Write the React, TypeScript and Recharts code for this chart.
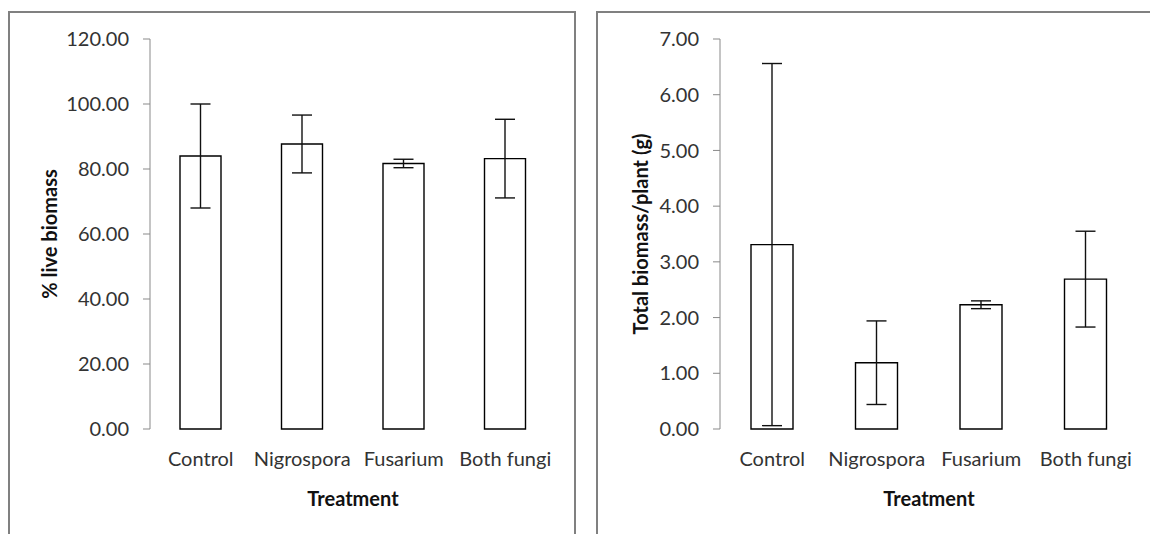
import { BarChart, Bar, XAxis, YAxis, ErrorBar, Label } from "recharts"

const treatments = ["Control", "Nigrospora", "Fusarium", "Both fungi"]
const liveBiomass = [84.0, 87.7, 81.7, 83.2]
const liveBiomassErr = [16.0, 8.9, 1.3, 12.1]
const totalBiomass = [3.31, 1.19, 2.23, 2.69]
const totalBiomassErr = [3.25, 0.75, 0.07, 0.86]
const liveTicks = [0, 20, 40, 60, 80, 100, 120]
const totalTicks = [0, 1, 2, 3, 4, 5, 6, 7]
const edgeTicks = [0, 1, 2, 3, 4]

const liveData = treatments.map((name, i) => ({ name, value: liveBiomass[i], err: liveBiomassErr[i] }))
const totalData = treatments.map((name, i) => ({ name, value: totalBiomass[i], err: totalBiomassErr[i] }))

const font = "Lato, 'Open Sans', sans-serif"
const axisGray = "#898989"
const textColor = "#333"

function YTitle({ viewBox, value, shift }: any) {
  const cx = viewBox.x + shift
  const cy = viewBox.y + viewBox.height / 2
  return (
    <text
      x={cx}
      y={cy}
      transform={`rotate(-90 ${cx} ${cy})`}
      textAnchor="middle"
      dominantBaseline="central"
      fontFamily={font}
      fontWeight="bold"
      fontSize={20}
      fill="#111"
    >
      {value}
    </text>
  )
}

function Panel({ data, ticks, max, yTitle, yWidth, titleShift, right, barSize, left }: any) {
  return (
    <div style={{ position: "absolute", left, top: 0 }}>
      <BarChart
        width={570}
        height={520}
        data={data}
        margin={{ top: 31, right, left: 0, bottom: 0 }}
        style={{ fontFamily: font }}
      >
        <XAxis
          xAxisId="edges"
          type="number"
          domain={[0, 4]}
          ticks={edgeTicks}
          tick={false}
          tickSize={8}
          height={0}
          stroke={axisGray}
        />
        <XAxis
          xAxisId="cat"
          dataKey="name"
          height={99}
          axisLine={false}
          tickLine={false}
          tickSize={0}
          tickMargin={23}
          interval={0}
          tick={{ fill: textColor, fontSize: 20 }}
        >
          <Label
            value="Treatment"
            position="insideBottom"
            offset={22}
            style={{ fontFamily: font, fontWeight: "bold", fontSize: 20, fill: "#111" }}
          />
        </XAxis>
        <YAxis
          width={yWidth}
          domain={[0, max]}
          ticks={ticks}
          interval={0}
          tickSize={7}
          tickMargin={14}
          stroke={axisGray}
          tick={{ fill: textColor, fontSize: 20 }}
          tickFormatter={(v: number) => v.toFixed(2)}
        >
          <Label content={(p: any) => <YTitle {...p} value={yTitle} shift={titleShift} />} />
        </YAxis>
        <Bar
          xAxisId="cat"
          dataKey="value"
          fill="#fff"
          stroke="#000"
          strokeWidth={1.4}
          barSize={barSize}
          isAnimationActive={false}
        >
          <ErrorBar dataKey="err" width={10} stroke="#111" strokeWidth={1.4} />
        </Bar>
      </BarChart>
    </div>
  )
}

export default function App() {
  const border = "2px solid #808080"
  return (
    <div style={{ position: "relative", width: 1150, height: 526, overflow: "hidden" }}>
      <div
        style={{
          position: "absolute", left: 0, top: 3, width: 568, height: 600,
          border, boxSizing: "border-box",
        }}
      />
      <div
        style={{
          position: "absolute", left: 588, top: 3, width: 700, height: 600,
          border, boxSizing: "border-box",
        }}
      />
      <Panel data={liveData} ticks={liveTicks} max={120} yTitle="% live biomass"
        yWidth={142} titleShift={41} right={22} barSize={41} left={0} />
      <Panel data={totalData} ticks={totalTicks} max={7} yTitle="Total biomass/plant (g)"
        yWidth={132} titleShift={52} right={20} barSize={42} left={580} />
    </div>
  )
}
